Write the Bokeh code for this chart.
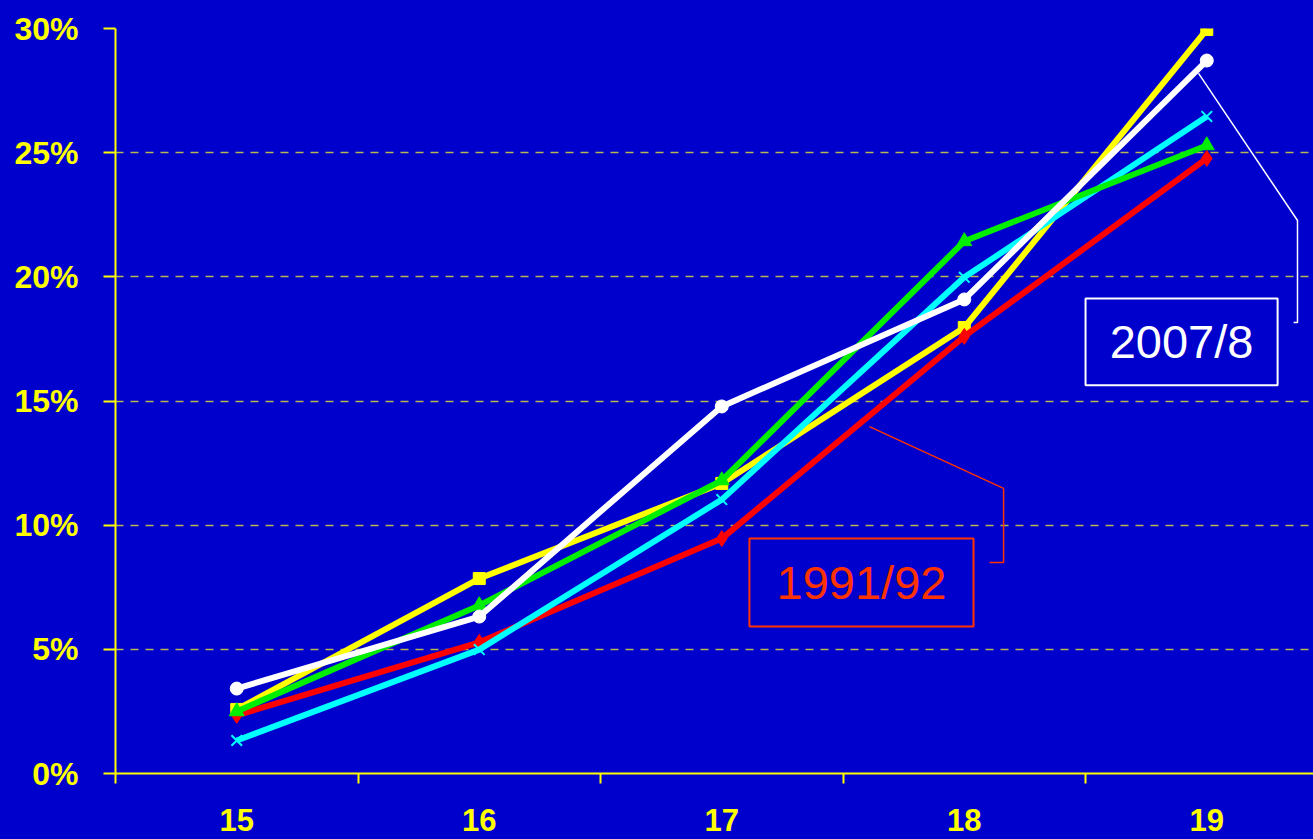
from bokeh.plotting import figure
from bokeh.models import FixedTicker, PrintfTickFormatter, Range1d
from bokeh.core.properties import value
from bokeh.embed import file_html
from bokeh.resources import INLINE

# ---- data ----
ages = [15, 16, 17, 18, 19]
red_1991 = [2.34, 5.28, 9.46, 17.6, 24.77]
yellow_s = [2.58, 7.85, 11.68, 17.96, 29.96]
green_s = [2.5, 6.77, 11.8, 21.43, 25.29]
cyan_s = [1.33, 4.99, 11.03, 19.98, 26.46]
white_2007 = [3.42, 6.32, 14.78, 19.09, 28.71]
y_ticks = [0, 5, 10, 15, 20, 25, 30]

# callouts
lab_2007 = "2007/8"
lab_1991 = "1991/92"

BG = "#0000CC"
YEL = "#FFFF00"
FONT = "Liberation Sans"

p = figure(width=1313, height=839, output_backend="svg", toolbar_location=None,
           x_range=Range1d(14.5, 19.44), y_range=Range1d(0, 30),
           min_border_left=115, min_border_top=28, min_border_bottom=66, min_border_right=0)
p.background_fill_color = BG
p.border_fill_color = BG
p.outline_line_color = None

# axes
p.yaxis.ticker = FixedTicker(ticks=y_ticks)
p.yaxis.formatter = PrintfTickFormatter(format="%d%%")
p.yaxis.axis_line_color = YEL
p.yaxis.axis_line_width = 2
p.yaxis.major_tick_line_color = YEL
p.yaxis.major_tick_line_width = 2
p.yaxis.major_tick_out = 12
p.yaxis.major_tick_in = 0
p.yaxis.minor_tick_line_color = None
p.yaxis.major_label_standoff = 25
p.yaxis.major_label_text_color = YEL
p.yaxis.major_label_text_font = FONT
p.yaxis.major_label_text_font_style = "bold"
p.yaxis.major_label_text_font_size = "32px"

p.xaxis.ticker = FixedTicker(ticks=ages, minor_ticks=[14.5, 15.5, 16.5, 17.5, 18.5, 19.5])
p.xaxis.axis_line_color = YEL
p.xaxis.axis_line_width = 2
p.xaxis.major_tick_line_color = None
p.xaxis.minor_tick_line_color = YEL
p.xaxis.minor_tick_line_width = 2
p.xaxis.minor_tick_out = 10
p.xaxis.minor_tick_in = 0
p.xaxis.major_label_standoff = 25
p.xaxis.major_label_text_color = YEL
p.xaxis.major_label_text_font = FONT
p.xaxis.major_label_text_font_style = "bold"
p.xaxis.major_label_text_font_size = "31px"

p.xgrid.grid_line_color = None
p.ygrid.grid_line_color = "#B8B850"
p.ygrid.grid_line_dash = "8 7"
p.ygrid.grid_line_width = 1.5

LW = 6
series = [
    (yellow_s, YEL, "square", 12),
    (red_1991, "#FF0000", "diamond", 16),
    (cyan_s, "#00FFFF", "x", 15),
    (green_s, "#00EE00", "triangle", 15),
    (white_2007, "#FFFFFF", "circle", 13),
]
for ys, col, mk, sz in series:
    p.line(ages, ys, line_color=col, line_width=LW)
    if mk == "x":
        p.scatter(ages, ys, marker=mk, size=sz, line_color=col, line_width=2)
    else:
        p.scatter(ages, ys, marker=mk, size=sz, fill_color=col, line_color=col)

# callout connectors
p.line([18.966, 19.374, 19.374, 19.358], [28.19, 22.27, 18.16, 18.16],
       line_color="#FFFFFF", line_width=1.5)
p.line([17.609, 18.162, 18.162, 18.104], [13.97, 11.48, 8.50, 8.50],
       line_color="#FF3300", line_width=1.5)

# callout boxes
p.quad(left=[18.5], right=[19.292], top=[19.13], bottom=[15.63],
       fill_color=None, line_color="#FFFFFF", line_width=2)
p.quad(left=[17.114], right=[18.038], top=[9.46], bottom=[5.92],
       fill_color=None, line_color="#FF3300", line_width=2)
p.text(x=[18.896], y=[17.40], text=[lab_2007], text_color="#FFFFFF",
       text_font=value(FONT), text_font_size="47px", text_align="center",
       text_baseline="middle")
p.text(x=[17.576], y=[7.69], text=[lab_1991], text_color="#FF3300",
       text_font=value(FONT), text_font_size="47px", text_align="center",
       text_baseline="middle")

html = file_html(p, INLINE)
html = html.replace("<body>", '<body style="margin:0;background:#0000CC;">')
open("out.html", "w").write(html)
